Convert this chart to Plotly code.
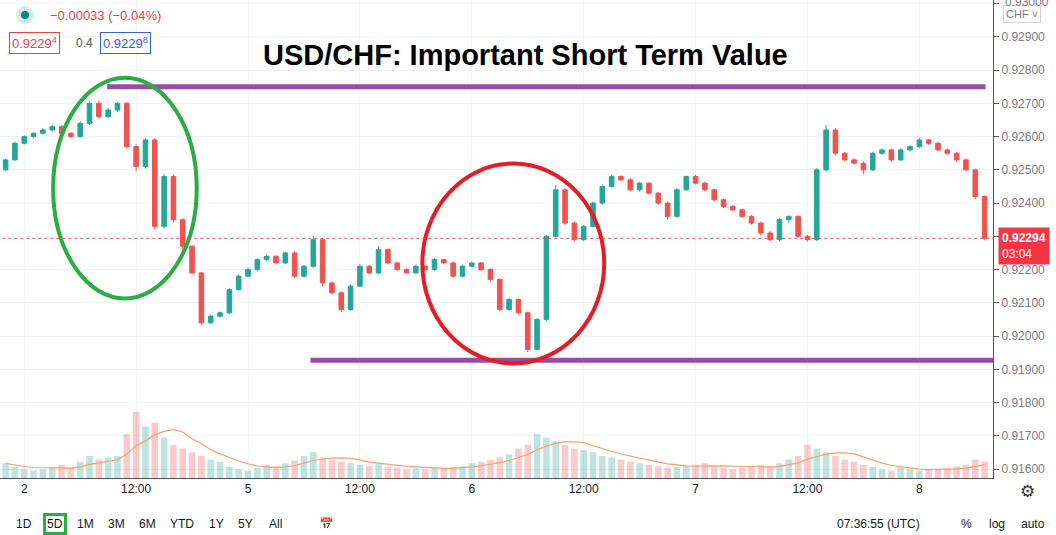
import numpy as np
import pandas as pd
import plotly.graph_objs as go

# hourly candles, hour 0 = day "2" 00:00
hours = list(range(-2, 104))
closes = [.9253, .9258, .9260, .9261, .9262, .9263, .9261, .9260, .9264, .9270,
          .9266, .9268, .9270, .9257, .9251, .9259, .9233, .9248, .9235, .9227,
          .9219, .9204, .9206, .9207, .9214, .9218, .9220, .9223, .9224, .9222,
          .9225, .9218, .9221, .9229, .9216, .9213, .9208, .9215, .9221, .9219,
          .9226, .9222, .9220, .9219, .9221, .9220, .9223, .9222, .9218, .9221,
          .9222, .9220, .9217, .9208, .9211, .9207, .9196, .9205, .9230, .9244,
          .9234, .9229, .9233, .9240, .9245, .9248, .9247, .9244, .9246, .9243,
          .9240, .9236, .9244, .9248, .9246, .9244, .9241, .9239, .9238, .9236,
          .9234, .9231, .9229, .9235, .9236, .9230, .9229, .9250, .9262, .9255,
          .9253, .9252, .9250, .9255, .9256, .9253, .9256, .9257, .9259, .9258,
          .9256, .9255, .9253, .9250, .9242, .92294]
first_open = .9250
# wick sizes in 0.00001
wick_up = [4, 5, 4, 3, 6, 5, 4, 3, 6, 5, 8, 6, 4, 5, 6, 5, 6, 8, 5, 4,
           4, 3, 5, 4, 4, 5, 6, 4, 5, 3, 4, 5, 4, 12, 5, 4, 4, 5, 6, 4,
           10, 4, 3, 4, 5, 3, 4, 3, 4, 5, 4, 3, 4, 4, 6, 3, 3, 4, 4, 14,
           4, 5, 4, 5, 6, 5, 4, 5, 4, 3, 4, 4, 5, 3, 5, 4, 3, 4, 5, 3,
           4, 4, 6, 5, 3, 4, 4, 6, 15, 5, 4, 5, 6, 4, 5, 4, 5, 4, 6, 3,
           5, 4, 3, 4, 4, 3]
wick_dn = [4, 3, 4, 5, 3, 4, 5, 4, 3, 5, 6, 4, 5, 6, 14, 6, 10, 6, 8, 10,
           5, 6, 4, 5, 5, 4, 3, 5, 4, 4, 3, 5, 4, 5, 10, 5, 8, 4, 3, 5,
           4, 5, 4, 3, 4, 5, 3, 4, 5, 4, 3, 4, 6, 5, 4, 6, 8, 4, 5, 4,
           6, 5, 4, 3, 4, 3, 5, 4, 5, 4, 5, 10, 4, 3, 4, 5, 6, 4, 5, 4,
           5, 8, 4, 5, 10, 4, 6, 4, 5, 6, 5, 4, 13, 4, 5, 6, 4, 5, 4, 5,
           4, 5, 6, 5, 8, 6]
volumes = [20, 15, 12, 10, 12, 15, 18, 14, 22, 30, 25, 28, 30, 60, 90, 70, 75, 55, 45, 40,
           35, 30, 25, 22, 15, 12, 10, 14, 18, 16, 20, 24, 30, 35, 28, 25, 22, 20, 18, 16,
           20, 15, 14, 12, 13, 12, 14, 13, 15, 16, 20, 22, 25, 28, 32, 40, 45, 60, 55, 50,
           45, 40, 38, 35, 30, 28, 25, 22, 20, 18, 16, 14, 15, 16, 18, 20, 16, 14, 12, 14,
           15, 18, 16, 20, 25, 30, 45, 40, 35, 30, 25, 22, 18, 15, 12, 10, 14, 12, 10, 11,
           12, 14, 16, 18, 25, 22]
# TradingView-style volume average
vol_ma = pd.Series(volumes).rolling(6, min_periods=1).mean()

opens = [first_open] + closes[:-1]
highs = [max(o, c) + w * 1e-5 for o, c, w in zip(opens, closes, wick_up)]
lows = [min(o, c) - w * 1e-5 for o, c, w in zip(opens, closes, wick_dn)]
up = "#26a69a"
dn = "#ef5350"
vol_colors = ["rgba(38,166,154,0.3)" if c >= o else "rgba(239,83,80,0.3)" for o, c in zip(opens, closes)]

tick_vals = [0, 12, 24, 36, 48, 60, 72, 84, 96]
tick_text = ["2", "12:00", "5", "12:00", "6", "12:00", "7", "12:00", "8"]
price_ticks = [0.916 + i * 0.001 for i in range(15)]
last_price = closes[-1]

PW, PH = 993, 478  # plot area in pixels


def px(x):
    return x / PW


def py(y):
    return 1 - y / PH


def note(text, x, y, size=12, color="#131722", **kw):
    d = dict(text=text, xref="paper", yref="paper", x=px(x), y=py(y), xanchor="center",
             yanchor="middle", showarrow=False, font=dict(size=size, color=color))
    d.update(kw)
    return d


fig = go.Figure()
fig.add_trace(go.Bar(x=hours, y=volumes, marker_color=vol_colors, marker_line_width=0,
                     yaxis="y2", width=0.7, showlegend=False))
fig.add_trace(go.Scatter(x=hours, y=vol_ma, mode="lines", line=dict(color="#f7a26b", width=1.2),
                         yaxis="y2", showlegend=False))
fig.add_trace(go.Candlestick(x=hours, open=opens, high=highs, low=lows, close=closes,
                             increasing=dict(line=dict(color=up, width=1), fillcolor=up),
                             decreasing=dict(line=dict(color=dn, width=1), fillcolor=dn),
                             whiskerwidth=0, showlegend=False))

shapes = [
    dict(type="line", xref="x", yref="y", x0=8.9, x1=103.1, y0=0.92750, y1=0.92750,
         line=dict(color="#9c4ba3", width=5)),
    dict(type="line", xref="x", yref="y", x0=30.7, x1=109.5, y0=0.91927, y1=0.91927,
         line=dict(color="#9c4ba3", width=5)),
    dict(type="circle", xref="x", yref="y", x0=3.1, x1=18.5, y0=0.92113, y1=0.92777,
         line=dict(color="#2aae44", width=4)),
    dict(type="circle", xref="x", yref="y", x0=42.7, x1=62.2, y0=0.91918, y1=0.92519,
         line=dict(color="#e41e26", width=4)),
    dict(type="line", xref="x", yref="y", x0=-3, x1=104, y0=last_price, y1=last_price,
         line=dict(color=dn, width=1, dash="dot")),
    dict(type="circle", xref="paper", yref="paper", x0=px(16), x1=px(34), y0=py(24), y1=py(6),
         fillcolor="rgba(38,166,154,0.2)", line_width=0),
    dict(type="circle", xref="paper", yref="paper", x0=px(21), x1=px(29), y0=py(19), y1=py(11),
         fillcolor="#0e8a7c", line_width=0),
]

annotations = [
    note("<b>USD/CHF: Important Short Term Value</b>", 525, 55, size=29, color="black",
         font_family="Liberation Sans Narrow, Arial Narrow, Liberation Sans"),
    note("−0.00033 (−0.04%)", 48, 16, size=13, color="#e04848", xanchor="left"),
    note("0.9229<sup>4</sup>", 9, 43, size=13, color="#e04848", xanchor="left",
         bordercolor="#e04848", borderwidth=1, borderpad=2, bgcolor="white"),
    note("0.4", 84, 43, color="#555"),
    note("0.9229<sup>8</sup>", 100, 43, size=13, color="#2f64d2", xanchor="left",
         bordercolor="#2f64d2", borderwidth=1, borderpad=2, bgcolor="white"),
    note("CHF ˅", 1022, 14, size=11, color="#787b86", bordercolor="#d1d4dc",
         borderwidth=1, borderpad=2, bgcolor="white"),
    note("0.93000", 1027, 2, color="#787b86"),
    note("<b>0.92294</b><br>03:04", 998, 246, color="white", xanchor="left", align="left",
         bgcolor="#f23645", borderpad=3),
    note("⚙", 1027, 492, size=17, color="#333"),
    note("5D", 55, 524, bordercolor="#2aae44", borderwidth=3, borderpad=1),
]
for label, xp in [("1D", 24), ("1M", 85), ("3M", 116), ("6M", 147), ("YTD", 182),
                  ("1Y", 216), ("5Y", 245), ("All", 275), ("📅", 326), ("07:36:55 (UTC)", 878),
                  ("%", 966), ("log", 997), ("auto", 1033)]:
    annotations.append(note(label, xp, 524))

fig.update_layout(
    width=1056, height=535,
    margin=dict(l=0, r=63, t=0, b=57, autoexpand=False),
    paper_bgcolor="white", plot_bgcolor="white",
    font=dict(family="Liberation Sans, Arial", color="#131722"),
    xaxis=dict(range=[-2.6, 103.9], tickvals=tick_vals, ticktext=tick_text, showgrid=True,
               gridcolor="#f0f3fa", rangeslider=dict(visible=False), showline=True,
               linecolor="#50535e", ticks="", tickfont=dict(size=12), zeroline=False,
               automargin=False),
    yaxis=dict(range=[0.91573, 0.93011], side="right", tickvals=price_ticks, tickformat=".5f",
               gridcolor="#f0f3fa", showline=True, linecolor="#50535e", ticks="outside",
               ticklen=5, tickcolor="#50535e", tickfont=dict(size=12, color="#787b86"),
               zeroline=False, automargin=False),
    yaxis2=dict(overlaying="y", range=[0, 650], visible=False),
    shapes=shapes, annotations=annotations, bargap=0.2,
)

fig.write_html("out.html", config={"displayModeBar": False},
               post_script="document.body.style.margin='0';")
